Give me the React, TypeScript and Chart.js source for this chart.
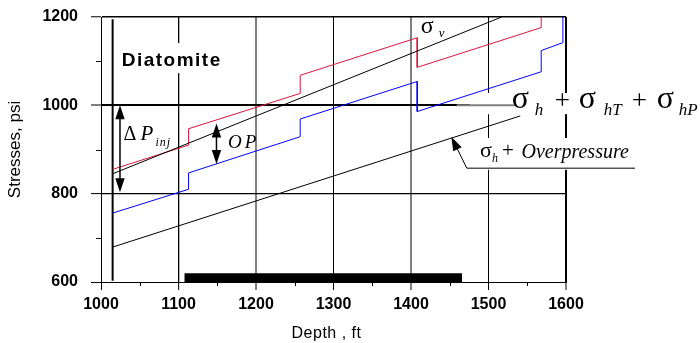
import React, { useEffect, useRef } from 'react';
import { Chart, registerables } from 'chart.js';
Chart.register(...registerables);

// Axis ticks
const depthMin = 1000;
const depthMax = 1600;
const stressMin = 600;
const stressMax = 1200;
const minorDepthTicks = [1050, 1150, 1250, 1350, 1450, 1550];
const minorStressTicks = [700, 900, 1100];

// Series: σh + σhT + σhP (red)
const redDepth = [1015, 1113, 1113, 1257, 1257, 1408, 1408, 1568, 1568];
const redStress = [855, 910, 947, 1027, 1068, 1153, 1086, 1176, 1200];
// Series: blue stepped
const blueDepth = [1015, 1113, 1113, 1257, 1257, 1408, 1408, 1568, 1568, 1596, 1596];
const blueStress = [756, 810, 847, 929, 969, 1054, 986, 1076, 1124, 1142, 1200];
// σv
const sigmaVDepth = [1015, 1517];
const sigmaVStress = [845, 1200];
// σh + Overpressure
const overDepth = [1015, 1541];
const overStress = [679, 976];
// Diatomite top marker
const diatomiteDepth = [1015, 1015];
const diatomiteStress = [603, 1195];
// Interval bar
const intervalDepth = [1107.5, 1466];
const intervalStress = [620, 620];

const pts = (xs: number[], ys: number[]) => xs.map((x, i) => ({ x, y: ys[i] }));

const SANS = '"Liberation Sans", Arial, sans-serif';
const SERIF = '"Liberation Serif", "Times New Roman", serif';

const xGridWidth: Record<number, number> = { 1000: 1, 1100: 1.3, 1200: 2, 1300: 1, 1400: 2, 1500: 1, 1600: 2 };
const xGridColor: Record<number, string> = { 1200: '#808080', 1400: '#808080' };
const yGridWidth: Record<number, number> = { 600: 1, 800: 1.2, 1000: 2, 1200: 1.5 };

export default function App() {
  const ref = useRef<HTMLCanvasElement | null>(null);
  useEffect(() => {
    if (!ref.current) return;

    const annot = {
      id: 'annot',
      beforeDatasetsDraw(chart: any) {
        const { ctx } = chart;
        const X = (v: number) => chart.scales.x.getPixelForValue(v);
        const Y = (v: number) => chart.scales.y.getPixelForValue(v);
        ctx.save();
        ctx.fillStyle = '#fff';
        const boxes = [
          [1019, 1164, 1141, 1073],
          [1476, 1773, 1028, 980],
          [1476, 1695, 926, 854],
        ];
        boxes.forEach(([x1, x2, y1, y2]) => {
          ctx.fillRect(X(x1), Y(y1), X(x2) - X(x1), Y(y2) - Y(y1));
        });
        ctx.strokeStyle = '#808080';
        ctx.lineWidth = 2;
        ctx.beginPath();
        ctx.moveTo(X(1459), Y(1000));
        ctx.lineTo(X(1534), Y(1000));
        ctx.stroke();
        ctx.restore();
      },
      afterDatasetsDraw(chart: any) {
        const { ctx, chartArea } = chart;
        const X = (v: number) => chart.scales.x.getPixelForValue(v);
        const Y = (v: number) => chart.scales.y.getPixelForValue(v);
        ctx.save();
        ctx.strokeStyle = '#000';
        ctx.fillStyle = '#000';
        ctx.lineWidth = 1;
        // minor ticks
        ctx.beginPath();
        minorStressTicks.forEach((v) => {
          const y = Math.round(Y(v)) + 0.5;
          ctx.moveTo(chartArea.left - 5, y);
          ctx.lineTo(chartArea.left, y);
        });
        minorDepthTicks.forEach((v) => {
          const x = Math.round(X(v)) + 0.5;
          ctx.moveTo(x, chartArea.bottom);
          ctx.lineTo(x, chartArea.bottom + 4);
        });
        ctx.stroke();

        const head = (tx: number, ty: number, fx: number, fy: number) => {
          const a = Math.atan2(ty - fy, tx - fx);
          const L = 14, W = 4.7;
          ctx.beginPath();
          ctx.moveTo(tx, ty);
          ctx.lineTo(tx - L * Math.cos(a) + W * Math.sin(a), ty - L * Math.sin(a) - W * Math.cos(a));
          ctx.lineTo(tx - L * Math.cos(a) - W * Math.sin(a), ty - L * Math.sin(a) + W * Math.cos(a));
          ctx.closePath();
          ctx.fill();
        };
        const dbl = (d: number, s1: number, s2: number) => {
          const x = X(d), y1 = Y(s1), y2 = Y(s2);
          ctx.lineWidth = 1.5;
          ctx.beginPath();
          ctx.moveTo(x, y1 + 6);
          ctx.lineTo(x, y2 - 6);
          ctx.stroke();
          head(x, y1, x, y2);
          head(x, y2, x, y1);
        };
        dbl(1024.5, 1000, 803);
        dbl(1149, 959, 867);

        // Overpressure leader
        ctx.lineWidth = 1;
        const tx = X(1452), ty = Y(929);
        const lx = X(1472), ly = Y(857.7);
        ctx.beginPath();
        ctx.moveTo(tx + (lx - tx) * 0.3, ty + (ly - ty) * 0.3);
        ctx.lineTo(lx, ly);
        ctx.lineTo(X(1689), ly);
        ctx.stroke();
        head(tx, ty, lx, ly);

        const t = (s: string, x: number, y: number, font: string, ls = '0px', align: CanvasTextAlign = 'left') => {
          ctx.font = font;
          (ctx as any).letterSpacing = ls;
          ctx.textAlign = align;
          ctx.textBaseline = 'alphabetic';
          ctx.fillText(s, x, y);
          (ctx as any).letterSpacing = '0px';
        };

        // x-axis title
        t('Depth , ft', (chartArea.left + chartArea.right) / 2 - 7, chartArea.bottom + 56, `16px ${SANS}`, '0.5px', 'center');

        // Diatomite
        t('Diatomite', X(1026.7), Y(1090), `bold 19px ${SANS}`, '1.5px');

        // ΔP_inj
        let ax = X(1029), ay = Y(921.7);
        t('Δ', ax, ay, `20px ${SERIF}`);
        t('P', ax + 17, ay, `italic 21px ${SERIF}`);
        t('inj', ax + 32, ay + 6, `italic 12px ${SERIF}`, '1px');

        // OP
        t('OP', X(1164), Y(903), `italic 19px ${SERIF}`, '3px');

        // σv
        ax = X(1412.5); ay = Y(1164);
        t('σ', ax, ay, `24px ${SERIF}`);
        t('v', ax + 18, ay + 4, `italic 13px ${SERIF}`);

        // σh + σhT + σhP
        ax = X(1530); ay = Y(993.4);
        t('σ', ax, ay, `32px ${SERIF}`);
        t('h', ax + 23, ay + 7, `italic 17px ${SERIF}`);
        t('+', ax + 43, ay + 1, `27px ${SERIF}`);
        t('σ', ax + 67, ay, `32px ${SERIF}`);
        t('hT', ax + 92, ay + 7, `italic 17px ${SERIF}`);
        t('+', ax + 120, ay + 1, `27px ${SERIF}`);
        t('σ', ax + 145, ay, `32px ${SERIF}`);
        t('hP', ax + 167, ay + 7, `italic 17px ${SERIF}`);

        // σh + Overpressure
        ax = X(1489); ay = Y(883);
        t('σ', ax, ay, `22px ${SERIF}`);
        t('h', ax + 12, ay + 4.5, `italic 12px ${SERIF}`);
        t('+', ax + 22, ay, `21px ${SERIF}`);
        t('Overpressure', ax + 41.5, ay + 1.3, `italic 20px ${SERIF}`);

        ctx.restore();
      },
    };

    const line = (data: any[], color: string, width = 1) => ({
      type: 'line' as const,
      data,
      borderColor: color,
      borderWidth: width,
      pointRadius: 0,
      fill: false,
      tension: 0,
    });

    const chart = new Chart(ref.current, {
      type: 'line',
      data: {
        datasets: [
          line(pts(overDepth, overStress), '#000'),
          line(pts(sigmaVDepth, sigmaVStress), '#000'),
          line(pts(blueDepth, blueStress), '#0000ff'),
          line(pts(redDepth, redStress), '#dc143c'),
          line(pts(diatomiteDepth, diatomiteStress), '#000', 2),
          {
            ...line(pts(intervalDepth, intervalStress), '#000', 0),
            fill: 'start',
            backgroundColor: '#000',
          },
        ],
      },
      options: {
        animation: false,
        responsive: true,
        maintainAspectRatio: false,
        layout: { padding: { top: 17, right: 134, left: 0, bottom: 0 } },
        plugins: { legend: { display: false }, tooltip: { enabled: false } },
        scales: {
          x: {
            type: 'linear',
            min: depthMin,
            max: depthMax,
            afterFit: (s: any) => {
              s.height = 61;
              s.paddingLeft = 0;
              s.paddingRight = 0;
            },
            ticks: {
              stepSize: 100,
              color: '#000',
              padding: 5,
              maxRotation: 0,
              callback: (v: any) => String(v),
              font: { family: SANS, size: 16, weight: 'bold' },
            },
            grid: {
              color: (c: any) => xGridColor[c.tick?.value] || '#000',
              lineWidth: (c: any) => xGridWidth[c.tick?.value] ?? 1,
              tickLength: 8,
              tickColor: '#000',
              tickWidth: 1,
            },
            border: { display: true, color: '#000', width: 1 },
            title: { display: false },
          },
          y: {
            type: 'linear',
            min: stressMin,
            max: stressMax,
            afterFit: (s: any) => {
              s.width = 101;
              s.paddingTop = 0;
              s.paddingBottom = 0;
            },
            ticks: {
              stepSize: 200,
              color: '#000',
              padding: 13,
              callback: (v: any) => String(v),
              font: { family: SANS, size: 16, weight: 'bold' },
            },
            grid: {
              color: '#000',
              lineWidth: (c: any) => yGridWidth[c.tick?.value] ?? 1,
              tickLength: 10,
              tickColor: '#000',
              tickWidth: 1,
            },
            border: { display: true, color: '#000', width: 1 },
            title: {
              display: true,
              text: 'Stresses, psi',
              color: '#000',
              font: { family: SANS, size: 17 },
              padding: { top: 5.5, bottom: 0 },
            },
          },
        },
      },
      plugins: [annot],
    } as any);
    return () => chart.destroy();
  }, []);

  return (
    <div style={{ position: 'absolute', left: 0, top: 0, width: 700, height: 343, background: '#fff' }}>
      <canvas ref={ref} />
    </div>
  );
}
